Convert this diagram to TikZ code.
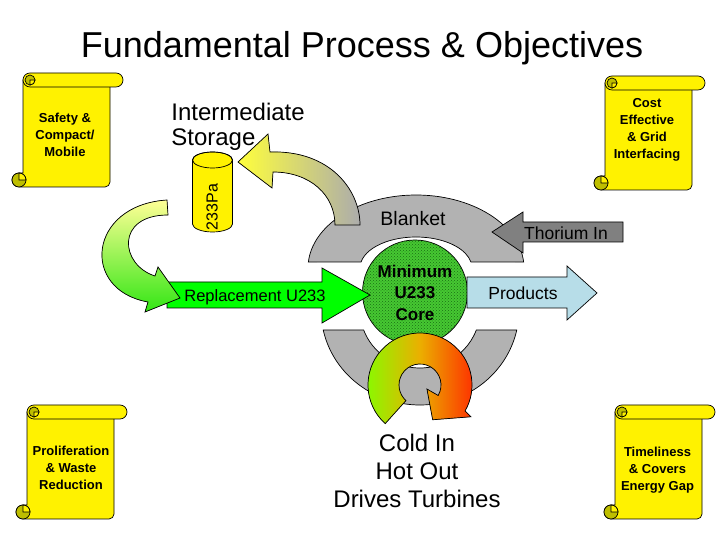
\documentclass[tikz,border=0pt]{standalone}
\usepackage{fontspec}
\setmainfont{Liberation Sans}
\usetikzlibrary{calc,patterns}
\definecolor{paleyellow}{RGB}{255,255,150}
\definecolor{headyellow}{RGB}{255,255,60}
\definecolor{leafgreen}{RGB}{50,230,20}
\definecolor{limegreen}{RGB}{0,255,0}
\definecolor{coregreen}{RGB}{70,200,50}
\definecolor{corewave}{RGB}{25,110,20}
\definecolor{chartreuse}{RGB}{130,255,0}
\definecolor{warm}{RGB}{235,175,0}
\definecolor{hotred}{RGB}{255,40,0}
\definecolor{powder}{RGB}{183,221,232}
\definecolor{curlcol}{RGB}{190,190,0}

\begin{document}
\begin{tikzpicture}[x=1pt,y=1pt,line width=0.7pt,
paper/.style={draw=black, fill=yellow},
curl/.style={draw=black, fill=curlcol},
note/.style={font=\bfseries\fontsize{13}{17}\selectfont, align=center, inner sep=0},
big/.style={font=\fontsize{24}{28}\selectfont, inner sep=0},
tag/.style={font=\fontsize{17.5}{21}\selectfont, inner sep=0, anchor=base},
blanket/.style={draw=black, fill=gray!60},
scroll/.pic={
	\filldraw[paper] (0,-7) -- (87,-7) -- (87,-109) arc[start angle=0,end angle=-90,radius=5] -- (-4,-114) arc[start angle=-90,end angle=-270,radius=7] -- (0,-100) -- cycle;
	\filldraw[curl] (-4,-107) circle[radius=7];
	\filldraw[paper] (-4,-107) -- (-4,-100) arc[start angle=90,end angle=0,radius=7] -- cycle;
	\filldraw[paper,rounded corners=7] (0,0) rectangle (100,-14);
	\filldraw[curl] (7,-7) circle[radius=5];
	\filldraw[paper] (7,-7) -- (12,-7) arc[start angle=0,end angle=-90,radius=5] -- cycle;
}
]
\path[use as bounding box, fill=white] (0,0) rectangle (720,540);
\foreach \x/\y in {23/467, 605/464, 27/135, 615/135}
	\pic at (\x,\y) {scroll};
\node[note] (safety) at (65,405) {Safety \&\\Compact/\\Mobile};
\node[note] (cost) at (647,410.5) {Cost\\Effective\\\& Grid\\Interfacing};
\node[note] (proliferation) at (71,72) {Proliferation\\\& Waste\\Reduction};
\node[note] (timeliness) at (657.5,70) {Timeliness\\\& Covers\\Energy Gap};

\node[font=\fontsize{36}{40}\selectfont, inner sep=0, anchor=base] (title) at (362,482) {Fundamental Process \& Objectives};
\node[big, font=\fontsize{24}{25}\selectfont, anchor=west, align=left] (storage) at (171,413.5) {Intermediate\\Storage};

\coordinate (tank) at (212.5,380);
\filldraw[paper] ($(tank)+(-20,0)$) -- ++(0,-64) arc[start angle=180,end angle=360,x radius=20,y radius=8] -- ++(0,64) arc[start angle=0,end angle=180,x radius=20,y radius=8] -- cycle;
\draw (tank) ellipse[x radius=20,y radius=8];
\node[rotate=90, font=\fontsize{16}{18}\selectfont, inner sep=0] (pa) at (212,333) {233Pa};

\coordinate (low) at (420,230);
\filldraw[blanket] ($(low)+(192.15:99 and 95)$) arc[start angle=192.15,end angle=347.85,x radius=99,y radius=95] -- ($(low)+(-20.17:60 and 58)$) arc[start angle=-20.17,end angle=-159.83,x radius=60,y radius=58] -- cycle;
\coordinate (up) at (416,272);
\filldraw[blanket] ($(up)+(4.71:108 and 73)$) arc[start angle=4.71,end angle=175.29,x radius=108,y radius=73] -- ($(up)+(168.84:56 and 31)$) arc[start angle=168.84,end angle=11.16,x radius=56,y radius=31] -- cycle;

\filldraw[draw=black, left color=headyellow, right color=gray!65] (238,378) -- (268,406) -- (270,388) .. controls (330,390) and (360,350) .. (360,315) -- (335,315) .. controls (335,345) and (310,368) .. (273,368) -- (272,352) -- cycle;
\filldraw[draw=black, fill=gray] (492,308) -- (523,328) -- (523,318) -- (623,318) -- (623,298) -- (523,298) -- (523,287) -- cycle;

\node[circle, draw, fill=coregreen, postaction={pattern=crosshatch dots, pattern color=corewave}, minimum size=105, inner sep=0, font=\bfseries\fontsize{17}{21.5}\selectfont, align=center] (core) at (415,247.5) {Minimum\\U233\\Core};

\coordinate (swirl) at (420,155);
\filldraw[draw=black, left color=chartreuse, right color=hotred, middle color=warm] ($(swirl)+(228:52)$) arc[start angle=228,end angle=-30,radius=52] -- ($(swirl)+(-32:60)$) -- ($(swirl)+(-70:37)$) -- ($(swirl)+(-30:8)$) -- ($(swirl)+(-30:21)$) arc[start angle=-30,end angle=228,radius=21] -- cycle;

\filldraw[draw=black, fill=limegreen] (167,258) -- (322,258) -- (322,272) -- (370,245) -- (322,217) -- (322,232) -- (167,232) -- cycle;
\filldraw[draw=black, top color=paleyellow, bottom color=leafgreen] (167,340) .. controls (88,335) and (80,250) .. (148,238) -- (145,228) -- (180,242) -- (158,273) -- (155,264) .. controls (120,275) and (115,325) .. (168,325) -- cycle;
\filldraw[draw=black, fill=powder] (467,263) -- (567,263) -- (567,274) -- (597,247) -- (567,220) -- (567,232) -- (467,232) -- cycle;

\node[tag, font=\fontsize{16.5}{20}\selectfont] (replacement) at (255,238) {Replacement U233};
\node[tag, font=\fontsize{19.5}{22}\selectfont] (blanketname) at (413,314) {Blanket};
\node[tag] (thorium) at (566,300) {Thorium In};
\node[tag] (products) at (523,240) {Products};
\node[big, align=center] (turbines) at (417,69.5) {Cold In\\Hot Out\\Drives Turbines};
\end{tikzpicture}
\end{document}
